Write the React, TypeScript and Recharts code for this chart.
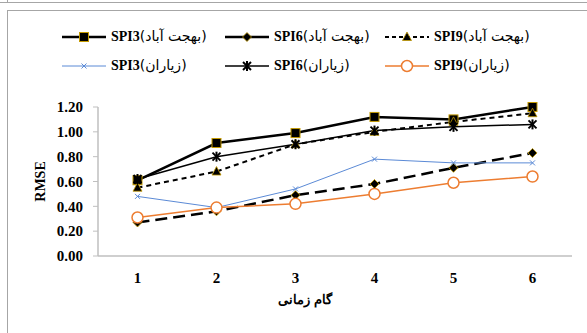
import { LineChart, Line, XAxis, YAxis } from 'recharts';

const steps = ['1', '2', '3', '4', '5', '6'];
const behjatSpi3 = [0.61, 0.91, 0.99, 1.12, 1.1, 1.2];
const behjatSpi6 = [0.27, 0.36, 0.49, 0.58, 0.71, 0.83];
const behjatSpi9 = [0.55, 0.68, 0.9, 1.0, 1.08, 1.15];
const zayaranSpi3 = [0.48, 0.39, 0.54, 0.78, 0.75, 0.75];
const zayaranSpi6 = [0.62, 0.8, 0.9, 1.01, 1.04, 1.06];
const zayaranSpi9 = [0.31, 0.39, 0.42, 0.5, 0.59, 0.64];
const indexNames = ['SPI3', 'SPI6', 'SPI9', 'SPI3', 'SPI6', 'SPI9'];
const stationNames = ['(بهجت آباد)', '(بهجت آباد)', '(بهجت آباد)', '(زیاران)', '(زیاران)', '(زیاران)'];
const yTicks = [0, 0.2, 0.4, 0.6, 0.8, 1.0, 1.2];

const data = steps.map((s, i) => ({
  step: s,
  b3: behjatSpi3[i],
  b6: behjatSpi6[i],
  b9: behjatSpi9[i],
  z3: zayaranSpi3[i],
  z6: zayaranSpi6[i],
  z9: zayaranSpi9[i],
}));

const GOLD = '#C49A00';
const BLUE = '#5B8AD6';
const ORANGE = '#ED7D31';
const AXIS = '#BFBFBF';
const SERIF = '"Liberation Serif", "Times New Roman", "DejaVu Serif", serif';

type MarkerKind = 'square' | 'diamond' | 'triangle' | 'cross' | 'star' | 'circle';

function Marker({ kind, x, y }: { kind: MarkerKind; x: number; y: number }) {
  switch (kind) {
    case 'square':
      return <rect x={x - 4.5} y={y - 4.5} width={9} height={9} fill="#000" stroke={GOLD} strokeWidth={1} />;
    case 'diamond':
      return (
        <polygon
          points={`${x},${y - 4.5} ${x + 4.5},${y} ${x},${y + 4.5} ${x - 4.5},${y}`}
          fill="#000"
          stroke={GOLD}
          strokeWidth={0.8}
        />
      );
    case 'triangle':
      return (
        <polygon
          points={`${x},${y - 5} ${x + 4.5},${y + 3.5} ${x - 4.5},${y + 3.5}`}
          fill="#000"
          stroke={GOLD}
          strokeWidth={0.8}
        />
      );
    case 'cross':
      return (
        <g stroke={BLUE} strokeWidth={1}>
          <line x1={x - 2.5} y1={y - 2.5} x2={x + 2.5} y2={y + 2.5} />
          <line x1={x - 2.5} y1={y + 2.5} x2={x + 2.5} y2={y - 2.5} />
        </g>
      );
    case 'star':
      return (
        <g stroke="#000" strokeWidth={2}>
          <line x1={x - 4} y1={y - 4} x2={x + 4} y2={y + 4} />
          <line x1={x - 4} y1={y + 4} x2={x + 4} y2={y - 4} />
          <line x1={x} y1={y - 5} x2={x} y2={y + 5} />
        </g>
      );
    default:
      return <circle cx={x} cy={y} r={5.5} fill="#fff" stroke={ORANGE} strokeWidth={1.5} />;
  }
}

const series = [
  { key: 'b3', stroke: '#000', width: 2.5, dash: undefined, legendDash: undefined, marker: 'square' as MarkerKind },
  { key: 'b6', stroke: '#000', width: 2.5, dash: '12 6', legendDash: undefined, marker: 'diamond' as MarkerKind },
  { key: 'b9', stroke: '#000', width: 2, dash: '5 4', legendDash: '4 3', marker: 'triangle' as MarkerKind },
  { key: 'z3', stroke: BLUE, width: 1, dash: undefined, legendDash: undefined, marker: 'cross' as MarkerKind },
  { key: 'z6', stroke: '#000', width: 1.5, dash: undefined, legendDash: undefined, marker: 'star' as MarkerKind },
  { key: 'z9', stroke: ORANGE, width: 1.5, dash: undefined, legendDash: undefined, marker: 'circle' as MarkerKind },
];

function LegendBox() {
  return (
    <div
      style={{
        position: 'absolute',
        left: 62,
        top: 28,
        display: 'grid',
        gridTemplateColumns: '163px 160px 160px',
        rowGap: 12,
        fontFamily: SERIF,
        fontSize: 14,
        color: '#000',
      }}
    >
      {series.map((s, i) => (
        <div key={s.key} style={{ display: 'flex', alignItems: 'center', height: 17, whiteSpace: 'nowrap' }}>
          <svg width={44} height={14} style={{ marginRight: 5 }}>
            <line x1={0} y1={7} x2={44} y2={7} stroke={s.stroke} strokeWidth={s.width} strokeDasharray={s.legendDash} />
            <Marker kind={s.marker} x={22} y={7} />
          </svg>
          <span>
            <b>{indexNames[i]}</b>
            <span style={{ fontFamily: '"DejaVu Sans", sans-serif', fontSize: 14 }}>{stationNames[i]}</span>
          </span>
        </div>
      ))}
    </div>
  );
}

export default function App() {
  return (
    <div style={{ position: 'absolute', left: 0, top: 0, width: 587, height: 333, overflow: 'hidden', background: '#fff' }}>
      <div style={{ position: 'absolute', left: 0, top: 0, width: 587, height: 2, borderBottom: '1.5px solid #A6A6A6' }} />
      <div style={{ position: 'absolute', left: 7, top: 0, width: 0, height: 3, borderLeft: '1.5px solid #A6A6A6' }} />
      <div
        style={{
          position: 'absolute',
          left: 7,
          top: 10,
          width: 620,
          height: 400,
          borderLeft: '1.5px solid #A6A6A6',
          borderTop: '1.5px solid #A6A6A6',
        }}
      />
      <div style={{ position: 'absolute', left: 0, top: 0 }}>
        <LineChart width={587} height={333} data={data} margin={{ top: 107, right: 15, bottom: 47, left: 20 }}>
          <XAxis
            dataKey="step"
            height={30}
            padding={{ left: 39.5, right: 39.5 }}
            axisLine={{ stroke: AXIS, strokeWidth: 1.5 }}
            tickLine={false}
            tickSize={0}
            tickMargin={16}
            tick={{ fill: '#000', fontSize: 15, fontWeight: 'bold', fontFamily: SERIF }}
            label={{
              value: 'گام زمانی',
              position: 'insideBottom',
              offset: -18,
              dx: -30,
              fill: '#000',
              fontSize: 13,
              fontWeight: 'bold',
              fontFamily: SERIF,
            }}
          />
          <YAxis
            width={78}
            domain={[0, 1.2]}
            ticks={yTicks}
            interval={0}
            tickFormatter={(v: number) => v.toFixed(2)}
            axisLine={{ stroke: AXIS, strokeWidth: 1.5 }}
            tickLine={{ stroke: AXIS }}
            tickSize={5}
            tickMargin={10}
            tick={{ fill: '#000', fontSize: 15, fontWeight: 'bold', fontFamily: SERIF }}
            label={{
              value: 'RMSE',
              angle: -90,
              position: 'insideLeft',
              offset: 0,
              dx: 20,
              fill: '#000',
              fontSize: 14,
              fontWeight: 'bold',
              fontFamily: SERIF,
              style: { textAnchor: 'middle' },
            }}
          />
          {series.map((s) => (
            <Line
              key={s.key}
              dataKey={s.key}
              type="linear"
              stroke={s.stroke}
              strokeWidth={s.width}
              strokeDasharray={s.dash}
              isAnimationActive={false}
              dot={(p: any) => (
                <g key={`${s.key}-${p.index}`}>
                  <Marker kind={s.marker} x={p.cx} y={p.cy} />
                </g>
              )}
              activeDot={false}
            />
          ))}
        </LineChart>
      </div>
      <LegendBox />
    </div>
  );
}
